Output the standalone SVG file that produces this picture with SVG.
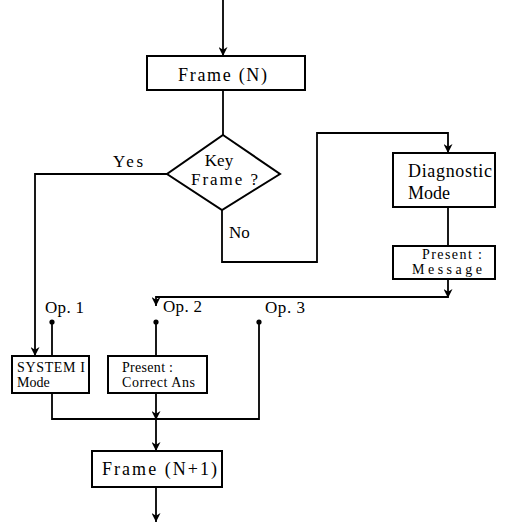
<svg xmlns="http://www.w3.org/2000/svg" width="507" height="524" viewBox="0 0 507 524">
<defs>
<style>
.box{fill:#fff;stroke:#000;stroke-width:2}
.ln{fill:none;stroke:#000;stroke-width:1.8}
.arr{marker-end:url(#ah)}
text{font-family:"Liberation Serif","DejaVu Serif","Times New Roman",serif;fill:#000}
.big{font-size:18px}
.mid{font-size:17px}
.sm{font-size:14px}
</style>
<marker id="ah" viewBox="0 0 10 10" refX="10" refY="5" markerWidth="9" markerHeight="9" markerUnits="userSpaceOnUse" orient="auto">
<path d="M0,0 L10,5 L0,10 L3,5 Z" fill="#000"/>
</marker>
</defs>
<rect width="507" height="524" fill="#fff"/>
<g id="connectors">
<line class="ln arr" x1="223" y1="0" x2="223" y2="56"/>
<line class="ln" x1="223" y1="90" x2="223" y2="135"/>
<polyline class="ln arr" points="167,174 35,174 35,356"/>
<polyline class="ln arr" points="222,210 222,262 317,262 317,133 448,133 448,153"/>
<line class="ln" x1="448" y1="207" x2="448" y2="246"/>
<line class="ln arr" x1="448" y1="279" x2="448" y2="298"/>
<polyline class="ln arr" points="448,297 156,297 156,306"/>
<line class="ln" x1="52" y1="322" x2="52" y2="356"/>
<line class="ln" x1="156" y1="322" x2="156" y2="356"/>
<polyline class="ln" points="259,322 259,419 156,419"/>
<polyline class="ln" points="52,393 52,419 156,419"/>
<line class="ln arr" x1="156" y1="393" x2="156" y2="420"/>
<line class="ln arr" x1="156" y1="419" x2="156" y2="451"/>
<line class="ln arr" x1="156" y1="487" x2="156" y2="522"/>
<circle cx="52" cy="322" r="2.6"/>
<circle cx="156" cy="322" r="2.6"/>
<circle cx="259" cy="322" r="2.6"/>
<text class="mid" x="113" y="167" textLength="30" lengthAdjust="spacing">Yes</text>
<text class="mid" x="229" y="238">No</text>
<text class="mid" x="45" y="313" textLength="39" lengthAdjust="spacing">Op. 1</text>
<text class="mid" x="163" y="312" textLength="39" lengthAdjust="spacing">Op. 2</text>
<text class="mid" x="265" y="313" textLength="40" lengthAdjust="spacing">Op. 3</text>
</g>
<g id="frameN">
<rect class="box" x="147" y="56" width="158" height="34"/>
<text class="big" x="178" y="81" textLength="89" lengthAdjust="spacing">Frame (N)</text>
</g>
<g id="keyframe">
<polygon class="box" points="223,135 280,174 222,210 167,174"/>
<text class="mid" x="219" y="166" text-anchor="middle">Key</text>
<text class="mid" x="191" y="185" textLength="67" lengthAdjust="spacing">Frame ?</text>
</g>
<g id="diagnostic">
<rect class="box" x="393" y="153" width="102" height="54"/>
<text class="big" x="408" y="177" textLength="84" lengthAdjust="spacing">Diagnostic</text>
<text class="big" x="408" y="199">Mode</text>
</g>
<g id="message">
<rect class="box" x="393" y="246" width="102" height="33"/>
<text class="sm" x="422" y="259" textLength="60" lengthAdjust="spacing">Present :</text>
<text class="sm" x="412" y="274" textLength="70" lengthAdjust="spacing">Message</text>
</g>
<g id="system1">
<rect class="box" x="12" y="356" width="77" height="37"/>
<text class="sm" x="17" y="372" textLength="68" lengthAdjust="spacing">SYSTEM I</text>
<text class="sm" x="17" y="387">Mode</text>
</g>
<g id="correct">
<rect class="box" x="108" y="356" width="99" height="37"/>
<text class="sm" x="122" y="372" textLength="51" lengthAdjust="spacing">Present :</text>
<text class="sm" x="122" y="387" textLength="73" lengthAdjust="spacing">Correct Ans</text>
</g>
<g id="frameN1">
<rect class="box" x="92" y="451" width="130" height="36"/>
<text class="big" x="102" y="475" textLength="115" lengthAdjust="spacing">Frame (N+1)</text>
</g>
</svg>
